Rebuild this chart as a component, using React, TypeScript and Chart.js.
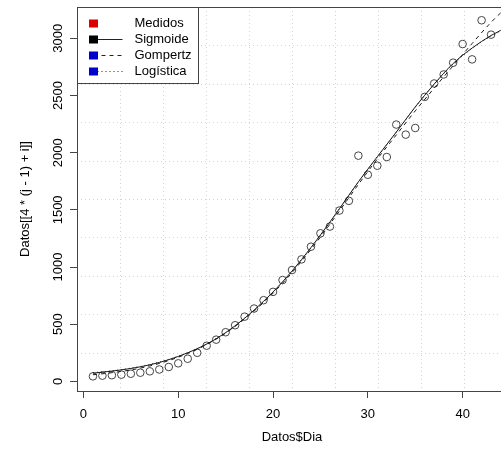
import React, { useEffect, useRef } from 'react';
import { Chart, registerables } from 'chart.js';

Chart.register(...registerables);

// ---- data ----
const days = [1, 2, 3, 4, 5, 6, 7, 8, 9, 10, 11, 12, 13, 14, 15, 16, 17, 18, 19, 20, 21, 22, 23, 24, 25, 26, 27, 28, 29, 30, 31, 32, 33, 34, 35, 36, 37, 38, 39, 40, 41, 42, 43];
const medidos = [44, 50, 54, 59, 67, 76, 88, 104, 126, 158, 198, 250, 312, 365, 430, 491, 566, 637, 710, 783, 886, 974, 1067, 1178, 1295, 1354, 1494, 1579, 1974, 1807, 1886, 1962, 2246, 2158, 2216, 2488, 2605, 2684, 2787, 2950, 2816, 3158, 3032];

const curveDays = [1, 3, 5, 7, 9, 11, 13, 15, 17, 19, 21, 23, 25, 27, 29, 31, 33, 35, 37, 39, 41, 43, 45];
const sigmoide = [72, 90, 113, 145, 190, 250, 326, 426, 552, 700, 870, 1065, 1280, 1510, 1745, 1965, 2180, 2400, 2600, 2780, 2915, 3025, 3110];
const gompertz = [58, 76, 100, 135, 182, 244, 322, 422, 546, 690, 858, 1050, 1262, 1490, 1722, 1945, 2155, 2365, 2565, 2760, 2955, 3140, 3300];
const logistica = [76, 93, 116, 148, 192, 252, 328, 428, 553, 700, 868, 1062, 1278, 1508, 1742, 1962, 2178, 2398, 2598, 2776, 2912, 3020, 3100];

const xTicks = [0, 10, 20, 30, 40];
const yTicks = [0, 500, 1000, 1500, 2000, 2500, 3000];
const xRange = [-0.68, 44.68];
const yRange = [-84, 3274];

const legendLabels = ['Medidos', 'Sigmoide', 'Gompertz', 'Logística'];
const legendColors = ['#dd0000', '#000000', '#0000cc', '#0000cc'];
const legendDashes = [null, [], [4, 4], [1, 3]];

const xTitle = 'Datos$Dia';
const yTitle = 'Datos[[4 * (j - 1) + i]]';

const FONT = "'Liberation Sans', Arial, sans-serif";
const FS = 13;

const rPlot = {
  id: 'rPlot',
  beforeDatasetsDraw(chart: any) {
    const { ctx, chartArea: a, scales } = chart;
    ctx.save();
    ctx.strokeStyle = '#d3d3d3';
    ctx.lineWidth = 1;
    ctx.setLineDash([1, 3]);
    for (let k = 1; k < 10; k++) {
      const vx = xRange[0] + (k * (xRange[1] - xRange[0])) / 10;
      const px = Math.round(scales.x.getPixelForValue(vx)) + 0.5;
      ctx.beginPath();
      ctx.moveTo(px, a.top);
      ctx.lineTo(px, a.bottom);
      ctx.stroke();
      const vy = yRange[0] + (k * (yRange[1] - yRange[0])) / 10;
      const py = Math.round(scales.y.getPixelForValue(vy)) + 0.5;
      ctx.beginPath();
      ctx.moveTo(a.left, py);
      ctx.lineTo(a.right, py);
      ctx.stroke();
    }
    ctx.restore();
  },
  afterDatasetsDraw(chart: any) {
    const { ctx, chartArea: a } = chart;
    ctx.save();
    ctx.setLineDash([]);
    ctx.strokeStyle = '#444';
    ctx.lineWidth = 1;
    ctx.strokeRect(Math.round(a.left) + 0.5, Math.round(a.top) + 0.5, a.right - a.left, a.bottom - a.top);

    // legend
    const lx = Math.round(a.left) + 0.5;
    const ly = Math.round(a.top) + 0.5;
    const lw = 121;
    const lh = 76;
    ctx.fillStyle = '#ffffff';
    ctx.fillRect(lx, ly, lw, lh);
    ctx.strokeStyle = '#444';
    ctx.strokeRect(lx, ly, lw, lh);
    ctx.font = `${FS}px ${FONT}`;
    ctx.textBaseline = 'middle';
    ctx.textAlign = 'left';
    legendLabels.forEach((lab, i) => {
      const cy = ly + 16 + i * 16;
      const cx = lx + 16;
      const dash = legendDashes[i];
      if (dash) {
        ctx.strokeStyle = '#222';
        ctx.setLineDash(dash);
        ctx.beginPath();
        ctx.moveTo(cx, cy);
        ctx.lineTo(lx + 45, cy);
        ctx.stroke();
        ctx.setLineDash([]);
      }
      ctx.fillStyle = legendColors[i];
      ctx.fillRect(cx - 4.5, cy - 4, 9, 8);
      ctx.fillStyle = '#000';
      ctx.fillText(lab, lx + 57, cy);
    });
    ctx.restore();
  },
};

export default function App() {
  const ref = useRef<HTMLCanvasElement | null>(null);
  useEffect(() => {
    if (!ref.current) return;
    const lineDs = (label: string, ys: number[], dash: number[]) => ({
      label,
      data: curveDays.map((d, i) => ({ x: d, y: ys[i] })),
      showLine: true,
      pointRadius: 0,
      borderColor: '#1a1a1a',
      borderWidth: 1,
      borderDash: dash,
      cubicInterpolationMode: 'monotone' as const,
      fill: false,
    });
    const chart = new Chart(ref.current, {
      type: 'scatter',
      data: {
        datasets: [
          lineDs(legendLabels[1], sigmoide, []),
          lineDs(legendLabels[2], gompertz, [4, 4]),
          lineDs(legendLabels[3], logistica, [1, 3]),
          {
            label: legendLabels[0],
            data: days.map((d, i) => ({ x: d, y: medidos[i] })),
            showLine: false,
            pointStyle: 'circle',
            pointRadius: 3.8,
            pointBorderWidth: 1,
            pointBorderColor: '#444',
            pointBackgroundColor: 'rgba(0,0,0,0)',
            borderColor: '#444',
            backgroundColor: 'rgba(0,0,0,0)',
          },
        ],
      },
      options: {
        responsive: false,
        animation: false,
        devicePixelRatio: 1,
        layout: { padding: { top: 7, right: 3, left: 0, bottom: 0 } },
        plugins: { legend: { display: false }, tooltip: { enabled: false }, title: { display: false } },
        scales: {
          x: {
            type: 'linear',
            min: xRange[0],
            max: xRange[1],
            afterBuildTicks: (s: any) => {
              s.ticks = xTicks.map((v) => ({ value: v }));
            },
            afterFit: (s: any) => {
              s.height = 66;
            },
            grid: { drawOnChartArea: false, drawTicks: true, tickLength: 7, color: '#444', lineWidth: 1 },
            border: { display: false },
            ticks: {
              autoSkip: false,
              maxRotation: 0,
              minRotation: 0,
              padding: 9,
              color: '#000',
              font: { family: FONT, size: FS },
              callback: (v: any) => String(v),
            },
            title: { display: true, text: xTitle, color: '#000', font: { family: FONT, size: FS }, padding: { top: 0, bottom: 12 } },
          },
          y: {
            type: 'linear',
            min: yRange[0],
            max: yRange[1],
            afterBuildTicks: (s: any) => {
              s.ticks = yTicks.map((v) => ({ value: v }));
            },
            afterFit: (s: any) => {
              s.width = 77;
            },
            grid: { drawOnChartArea: false, drawTicks: true, tickLength: 7, color: '#444', lineWidth: 1 },
            border: { display: false },
            ticks: {
              autoSkip: false,
              minRotation: 90,
              maxRotation: 90,
              crossAlign: 'center',
              padding: -3,
              color: '#000',
              font: { family: FONT, size: FS },
              callback: (v: any) => String(v),
            },
            title: { display: true, text: yTitle, color: '#000', font: { family: FONT, size: FS }, padding: { top: 18, bottom: 0 } },
          },
        },
      },
      plugins: [rPlot],
    } as any);
    return () => chart.destroy();
  }, []);
  return (
    <div style={{ position: 'fixed', left: 0, top: 0, width: 501, height: 457, overflow: 'hidden', background: '#fff' }}>
      <canvas ref={ref} width={512} height={457} style={{ display: 'block' }} />
    </div>
  );
}
